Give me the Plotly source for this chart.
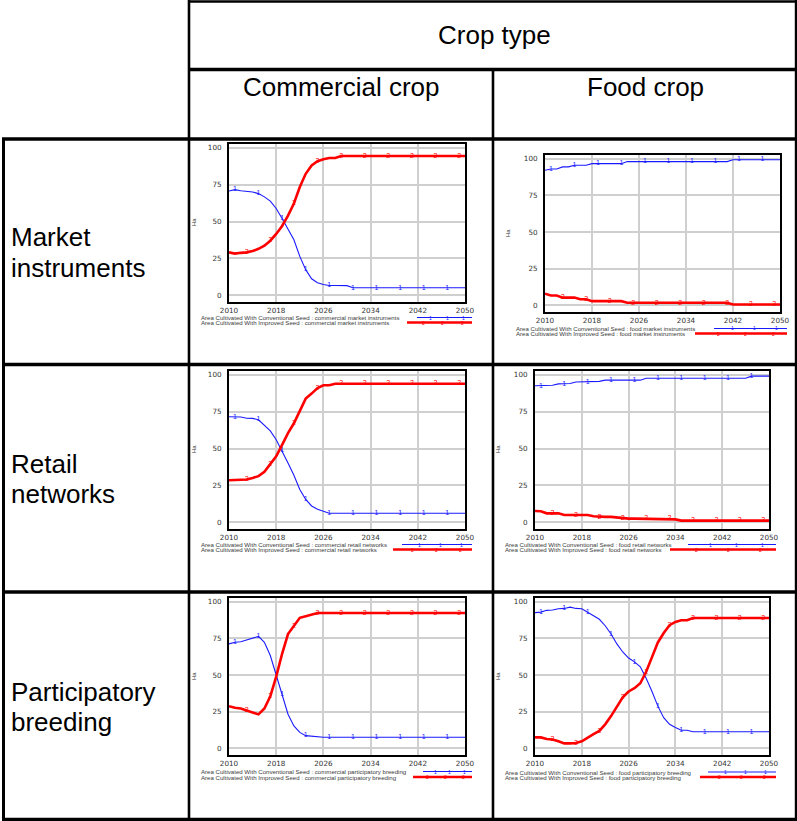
import plotly.graph_objects as go

# ---------------- data ----------------
YEARS = list(range(2010, 2051))

CM_CONV = [70.7, 71.6, 70.8, 70.5, 70.0, 68.9, 66.7, 63.8, 58.8, 52.1, 44.7, 37.6, 26.4, 17.4, 11.2, 8.5,
           7.4, 6.7, 6.7, 6.7, 6.6] + [5.1] * 20
CM_IMPR = [29.1, 28.3, 28.8, 29.1, 30.0, 31.5, 33.6, 37.0, 41.6, 47.0, 54.0, 62.2, 73.4, 82.3, 88.0, 90.8,
           92.2, 93.0, 93.0] + [94.4] * 22

FM_CONV = [92.1, 93.0, 93.0, 94.4, 94.4, 95.5, 95.5, 95.5] + [96.6] * 6 + [98.0] * 18 + [99.3] * 9
FM_IMPR = [8.0, 6.7, 6.7, 5.3, 5.3, 5.3, 4.2, 4.2] + [2.9] * 6 + [1.8] * 18 + [0.6] * 9

CR_CONV = [71.5, 71.5, 71.3, 70.5, 70.4, 69.5, 65.9, 61.9, 55.9, 48.5, 40.2, 31.9, 22.3, 15.5, 11.1, 8.9,
           7.8] + [6.2] * 24
CR_IMPR = [28.5, 28.5, 28.5, 29.0, 30.1, 31.3, 34.2, 39.1, 44.7, 52.5, 60.4, 67.1, 74.9, 83.8, 87.2, 91.0,
           92.8, 92.8] + [93.9] * 23

FR_CONV = [92.5, 92.5, 92.5, 92.8, 93.8, 93.8, 94.0, 95.1, 95.1, 95.1, 95.1, 95.5] + [96.3] * 7 + [97.6] * 18 + [99.0] * 4
FR_IMPR = [7.7, 7.5, 6.1, 6.1, 6.1, 5.0, 5.0, 5.0, 5.0, 5.0, 4.1, 3.7, 3.7, 3.7, 3.3, 2.6] + [2.5] * 8 + [2.0] + [1.2] * 16

CP_CONV = [71.2, 72.3, 72.7, 73.9, 75.0, 76.3, 72.3, 63.3, 50.0, 36.6, 23.3, 15.3, 10.9, 8.7, 8.2] + [7.6] * 26
CP_IMPR = [28.8, 27.7, 27.2, 25.9, 24.7, 23.2, 27.2, 35.5, 48.9, 64.5, 77.9, 83.5, 89.0, 90.1, 91.3] + [92.3] * 26

FP_CONV = [92.5, 92.9, 94.1, 94.3, 95.2, 95.4, 96.3, 95.4, 95.2, 92.9, 90.3, 88.0, 83.6, 78.0, 71.2, 65.7,
           61.6, 59.0, 55.6, 47.8, 38.8, 28.8, 20.9, 16.4, 14.2, 12.4, 12.4] + [11.3] * 14
FP_IMPR = [7.5, 7.5, 6.4, 6.1, 4.8, 3.4, 3.4, 3.7, 4.8, 7.5, 9.7, 11.9, 16.4, 22.0, 28.7, 34.8,
           38.8, 41.0, 44.4, 52.2, 62.2, 72.2, 78.6, 84.0, 86.2, 87.3, 87.3] + [88.9] * 14

SCENARIOS = ["commercial market instruments", "food market instruments",
             "commercial retail networks", "food retail networks",
             "commercial participatory breeding", "food participatory breeding"]
CONV_SERIES = [CM_CONV, FM_CONV, CR_CONV, FR_CONV, CP_CONV, FP_CONV]
IMPR_SERIES = [CM_IMPR, FM_IMPR, CR_IMPR, FR_IMPR, CP_IMPR, FP_IMPR]

X_TICKS = [2010, 2018, 2026, 2034, 2042, 2050]
Y_TICKS = [0, 25, 50, 75, 100]

COL_HEADERS = ["Commercial crop", "Food crop"]
ROW_HEADERS = [["Market", "instruments"], ["Retail", "networks"], ["Participatory", "breeding"]]
TOP_HEADER = "Crop type"

# ---------------- layout geometry (pixels) ----------------
W, H = 797, 821


def px(x):
    return x / W


def py(y):
    return 1 - y / H


# plot frame (x0, x1, y0, y1), "Ha" label pos, legend text x, legend rows y, legend sample x-ranges
PANELS = [
    dict(frame=(229, 465, 144, 302), ha=(194, 222), lx=199, ly=(317.5, 322.5), bl=(417, 472), rl=(407, 472)),
    dict(frame=(545, 780, 155, 312), ha=(508, 233), lx=514, ly=(328.5, 333.5), bl=(714, 787), rl=(695, 787)),
    dict(frame=(229, 465, 371, 529), ha=(194, 449), lx=199, ly=(544.5, 549.5), bl=(402, 472), rl=(393, 472)),
    dict(frame=(535, 769, 371, 529), ha=(498, 449), lx=503, ly=(544.5, 549.5), bl=(688, 776), rl=(670, 776)),
    dict(frame=(229, 465, 598, 755), ha=(194, 676), lx=199, ly=(771.5, 777), bl=(423, 472), rl=(413, 472)),
    dict(frame=(535, 769, 598, 755), ha=(498, 676), lx=503, ly=(772, 777), bl=(708, 776), rl=(700, 776)),
]

BLUE = "#1a1aff"
RED = "#ff0000"
TICK_FONT = dict(family="DejaVu Sans", size=7.2, color="#333333")
SMALL_FONT = "Liberation Sans"

fig = go.Figure()
shapes = []
annotations = []

for i, p in enumerate(PANELS):
    n = i + 1
    xa = "x" if n == 1 else f"x{n}"
    ya = "y" if n == 1 else f"y{n}"
    conv_text = ["1" if k % 4 == 1 else "" for k in range(len(YEARS))]
    impr_text = ["2" if k % 4 == 3 else "" for k in range(len(YEARS))]
    fig.add_trace(go.Scatter(
        x=YEARS, y=CONV_SERIES[i], mode="lines+text", text=conv_text, textposition="middle center",
        textfont=dict(family=SMALL_FONT, size=7, color=BLUE),
        line=dict(color=BLUE, width=1.1), xaxis=xa, yaxis=ya, showlegend=False, hoverinfo="skip"))
    fig.add_trace(go.Scatter(
        x=YEARS, y=IMPR_SERIES[i], mode="lines+text", text=impr_text, textposition="middle center",
        textfont=dict(family=SMALL_FONT, size=7, color=RED),
        line=dict(color=RED, width=2.6), xaxis=xa, yaxis=ya, showlegend=False, hoverinfo="skip"))

    x0, x1, y0, y1 = p["frame"]
    axis_common = dict(showgrid=True, gridcolor="#cfcfcf", gridwidth=1.5, showline=True,
                       linecolor="black", linewidth=2, mirror=True, zeroline=False, automargin=False,
                       ticks="", tickfont=TICK_FONT, fixedrange=True)
    fig.update_layout(**{
        ("xaxis" if n == 1 else f"xaxis{n}"): dict(
            domain=[px(x0), px(x1)], range=[2010, 2050], tickvals=X_TICKS,
            anchor=ya, ticklabelstandoff=0, **axis_common),
        ("yaxis" if n == 1 else f"yaxis{n}"): dict(
            domain=[py(y1), py(y0)], range=[-4.5, 102.5], tickvals=Y_TICKS,
            anchor=xa, ticklabelstandoff=4, **axis_common),
    })

    # "Ha" axis title
    hx, hy = p["ha"]
    annotations.append(dict(x=px(hx), y=py(hy), xref="paper", yref="paper", text="Ha", showarrow=False,
                            textangle=-90, font=dict(family=SMALL_FONT, size=6, color="#333333"),
                            xanchor="center", yanchor="middle"))
    # legend texts
    name = SCENARIOS[i]
    texts = [f"Area Cultivated With Conventional Seed : {name}", f"Area Cultivated With Improved Seed : {name}"]
    for t, yy in zip(texts, p["ly"]):
        annotations.append(dict(x=px(p["lx"]), y=py(yy), xref="paper", yref="paper", text=t, showarrow=False,
                                font=dict(family=SMALL_FONT, size=6.1, color="#3a3a3a"),
                                xanchor="left", yanchor="middle"))
    # legend samples
    for (lx0, lx1), yy, col, w, lab in [(p["bl"], p["ly"][0], BLUE, 1.1, "1"), (p["rl"], p["ly"][1], RED, 2.4, "2")]:
        shapes.append(dict(type="line", xref="paper", yref="paper", x0=px(lx0), x1=px(lx1), y0=py(yy), y1=py(yy),
                           line=dict(color=col, width=w)))
        for f in (0.25, 0.55, 0.85):
            annotations.append(dict(x=px(lx0 + f * (lx1 - lx0)), y=py(yy), xref="paper", yref="paper", text=lab,
                                    showarrow=False, font=dict(family=SMALL_FONT, size=5, color=col),
                                    xanchor="center", yanchor="middle"))

# ---------------- table grid ----------------
def hline(y, xa, xb, w=3):
    shapes.append(dict(type="line", xref="paper", yref="paper", x0=px(xa), x1=px(xb), y0=py(y), y1=py(y),
                       line=dict(color="black", width=w)))


def vline(x, ya, yb, w=2.6):
    shapes.append(dict(type="line", xref="paper", yref="paper", x0=px(x), x1=px(x), y0=py(ya), y1=py(yb),
                       line=dict(color="black", width=w)))


hline(1.5, 188, 797, 2.5)
hline(69.5, 188, 797, 3.5)
hline(139, 2, 797, 3.5)
hline(364.5, 2, 797, 3.5)
hline(592, 2, 797, 3.5)
hline(819.5, 2, 797, 3.5)
vline(189, 0, 821)
vline(493, 69, 821)
vline(796, 0, 821, 2.4)
vline(3.5, 138, 821, 3)

# ---------------- header texts ----------------
HEAD_FONT = dict(family="Liberation Sans", size=26, color="black")
annotations.append(dict(x=px(494), y=py(35), xref="paper", yref="paper", text=TOP_HEADER, showarrow=False,
                        font=HEAD_FONT, xanchor="center", yanchor="middle"))
for cx, t in zip([341, 645], COL_HEADERS):
    annotations.append(dict(x=px(cx), y=py(87), xref="paper", yref="paper", text=t, showarrow=False,
                            font=HEAD_FONT, xanchor="center", yanchor="middle"))
for (ya_, yb_), lines in zip([(237, 268), (464, 494), (692, 722)], ROW_HEADERS):
    for yy, t in zip((ya_, yb_), lines):
        annotations.append(dict(x=px(9), y=py(yy), xref="paper", yref="paper", text=t, showarrow=False,
                                font=HEAD_FONT, xanchor="left", yanchor="middle"))

fig.update_layout(width=W, height=H, margin=dict(l=0, r=0, t=0, b=0, autoexpand=False), paper_bgcolor="white",
                  plot_bgcolor="white", showlegend=False, shapes=shapes, annotations=annotations)

fig.write_html("out.html", config={"displayModeBar": False},
               post_script="document.body.style.margin='0';document.body.style.overflow='hidden';")
